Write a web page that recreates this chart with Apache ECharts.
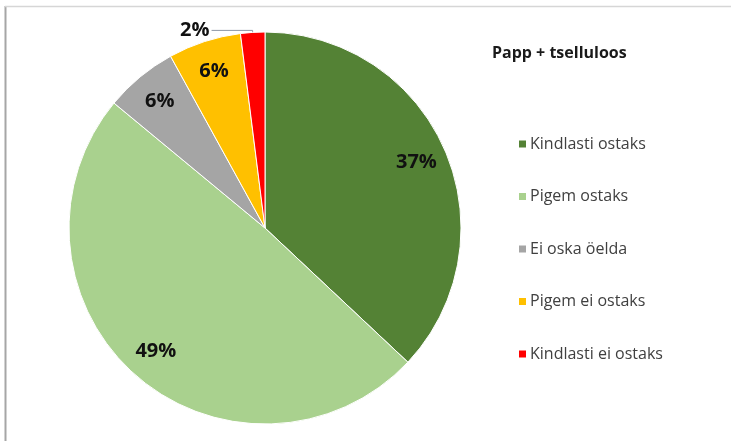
<!DOCTYPE html>
<html>
<head>
<meta charset="utf-8">
<script src="https://cdn.jsdelivr.net/npm/echarts@6/dist/echarts.min.js"></script>
<style>
  html, body { margin: 0; padding: 0; background: #fff; }
  #main { width: 731px; height: 441px; }
</style>
</head>
<body>
<div id="main"></div>
<script>
const categories = ['Kindlasti ostaks', 'Pigem ostaks', 'Ei oska öelda', 'Pigem ei ostaks', 'Kindlasti ei ostaks'];
const values = [37, 49, 6, 6, 2];
const colors = ['#548235', '#a9d18e', '#a5a5a5', '#ffc000', '#ff0000'];

const pctLabel = { fontFamily: 'Open Sans', fontSize: 20, fontWeight: 'bold', color: '#111111' };

// andmed kahele seeriale: üks joonistab viilud, teine ainult sildid
const pieData = categories.map(function (name, i) {
  const item = { name: name, value: values[i], itemStyle: { color: colors[i] } };
  if (i !== 4) {
    item.label = { show: false };
    item.labelLine = { show: false };
  } else {
    item.label = Object.assign({
      show: true,
      position: 'outside',
      formatter: '{c}%',
      distanceToLabelLine: 2,
      padding: [0, 0, 9, 0]
    }, pctLabel);
    item.labelLine = { show: true, length: 2, length2: 41, lineStyle: { color: '#8c96a6', width: 1 } };
  }
  return item;
});
const labelData = categories.map(function (name, i) {
  const item = { name: name, value: values[i] };
  if (i === 4) item.label = { show: false };
  return item;
});

var myChart = echarts.init(document.getElementById('main'));
var option = {
  animation: false,
  title: {
    text: 'Papp + tselluloos',
    left: 487,
    top: 40,
    textStyle: { fontFamily: 'Open Sans', fontSize: 16, fontWeight: 'bold', color: '#1a1a1a' }
  },
  legend: {
    data: categories,
    orient: 'vertical',
    left: 512,
    top: 131,
    icon: 'rect',
    itemWidth: 9,
    itemHeight: 9,
    itemGap: 36.5,
    textStyle: { fontFamily: 'Open Sans', fontSize: 16, lineHeight: 16, color: '#404040', padding: [0, 0, 0, -2] }
  },
  graphic: [
    { type: 'line', shape: { x1: 5.5, y1: 6, x2: 5.5, y2: 441 }, style: { stroke: '#a6a6a6', lineWidth: 2 }, silent: true },
    { type: 'line', shape: { x1: 5, y1: 6.5, x2: 731, y2: 6.5 }, style: { stroke: '#d6d6d6', lineWidth: 1.5 }, silent: true }
  ],
  series: [
    {
      type: 'pie',
      center: [265, 228],
      radius: 196,
      startAngle: 90,
      clockwise: true,
      data: pieData,
      itemStyle: { borderColor: '#ffffff', borderWidth: 1 },
      emphasis: { disabled: true }
    },
    {
      type: 'pie',
      center: [265, 228],
      radius: [128, 196],
      startAngle: 90,
      clockwise: true,
      silent: true,
      legendHoverLink: false,
      data: labelData,
      itemStyle: { color: 'rgba(0,0,0,0)' },
      label: Object.assign({ show: true, position: 'inside', formatter: '{c}%' }, pctLabel),
      labelLine: { show: false },
      emphasis: { disabled: true }
    }
  ]
};
myChart.setOption(option);
</script>
</body>
</html>
